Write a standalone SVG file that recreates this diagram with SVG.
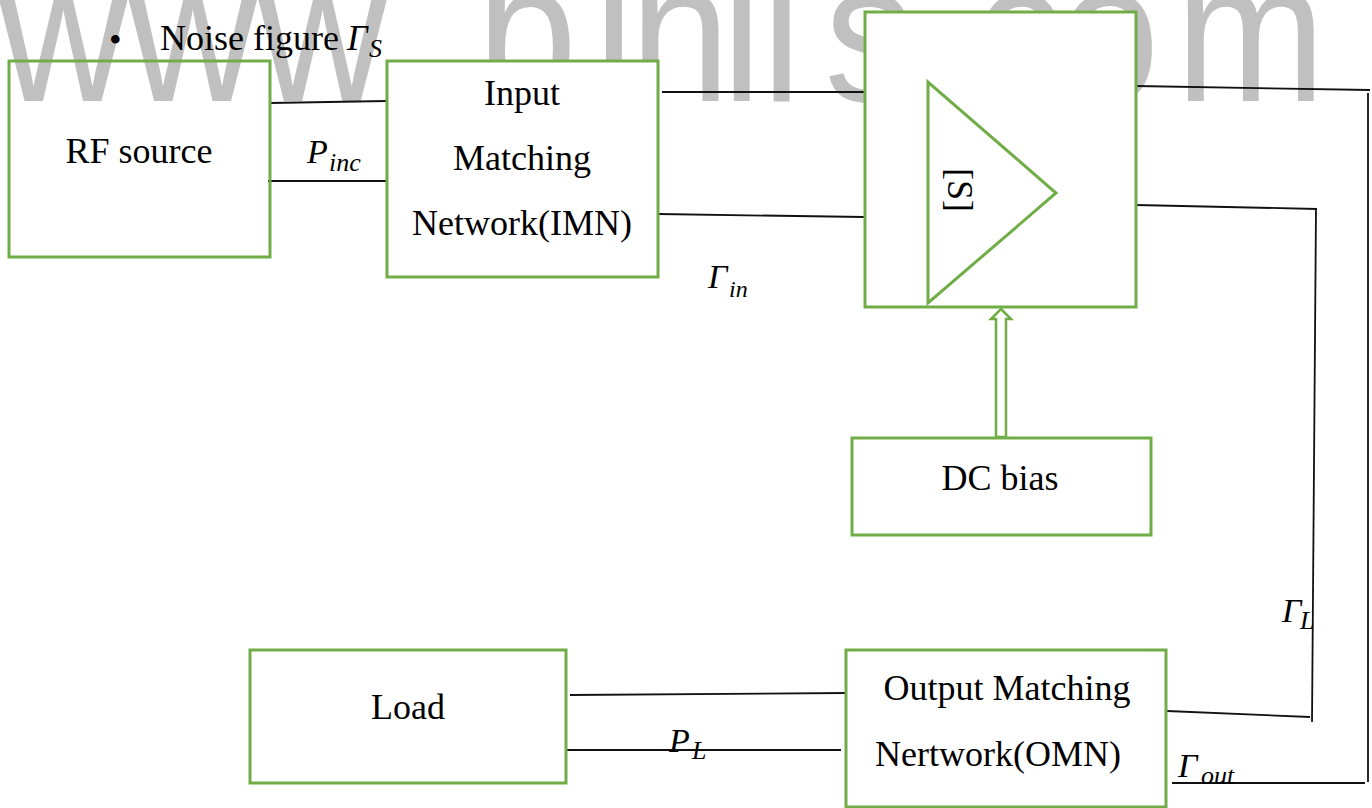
<svg xmlns="http://www.w3.org/2000/svg" width="1372" height="808" viewBox="0 0 1372 808">
<style>
.box{fill:#ffffff;stroke:#70ad47;stroke-width:3}
.open{fill:none;stroke:#70ad47;stroke-width:3}
.ln{stroke:#111111;stroke-width:1.8;fill:none}
.t{font-family:"Liberation Serif","Times New Roman",serif;font-size:36px;fill:#000}
.m{font-family:"Liberation Serif","Times New Roman",serif;font-style:italic;fill:#000}
.wm{font-family:"Liberation Sans",Arial,sans-serif;font-size:200px;fill:#c0c0c0}
</style>
<rect width="1372" height="808" fill="#ffffff"/>
<g id="watermark">
<text class="wm" transform="scale(0.9,1)" y="101" x="-2 142 286 436 530 660 700 802 846 916 1010 1082 1177 1306">www.binils.com</text>
</g>
<g id="heading">
<text class="t" x="109" y="52" font-size="64">•</text>
<text class="t" x="160" y="50" font-size="37">Noise figure</text>
<text class="m" x="347" y="50" font-size="36">Γ</text>
<text class="m" x="369" y="57" font-size="26">S</text>
</g>
<g id="connectors">
<line class="ln" x1="270" y1="103" x2="387" y2="101"/>
<line class="ln" x1="268" y1="181" x2="392" y2="181"/>
<line class="ln" x1="662" y1="92" x2="867" y2="92"/>
<line class="ln" x1="658" y1="214" x2="864" y2="217"/>
<line class="ln" x1="1136" y1="86" x2="1370" y2="90"/>
<line class="ln" x1="1368" y1="93" x2="1368" y2="782"/>
<line class="ln" x1="1172" y1="783" x2="1365" y2="783"/>
<line class="ln" x1="1136" y1="205" x2="1317" y2="209"/>
<line class="ln" x1="1316" y1="209" x2="1312" y2="722"/>
<line class="ln" x1="1167" y1="711" x2="1310" y2="717"/>
<line class="ln" x1="570" y1="695" x2="847" y2="693"/>
<line class="ln" x1="560" y1="750" x2="841" y2="750"/>
<path d="M1001,309 L1011,319 L1006,319 L1006,437 L996,437 L996,319 L991,319 Z" fill="#ffffff" stroke="#70ad47" stroke-width="2.5"/>
</g>
<g id="rf-source">
<rect class="open" x="9" y="61" width="261" height="196"/>
<text class="t" x="139" y="163" text-anchor="middle" font-size="37">RF source</text>
</g>
<g id="imn">
<rect class="box" x="387" y="61" width="271" height="216"/>
<text class="t" x="522" y="105" text-anchor="middle">Input</text>
<text class="t" x="522" y="170" text-anchor="middle">Matching</text>
<text class="t" x="522" y="235" text-anchor="middle">Network(IMN)</text>
</g>
<g id="p-inc">
<text class="m" x="307" y="163" font-size="34">P</text>
<text class="m" x="329" y="171" font-size="26">inc</text>
</g>
<g id="amplifier">
<rect class="box" x="865" y="12" width="271" height="295"/>
<polygon points="928,82 928,303 1056,193" fill="none" stroke="#70ad47" stroke-width="3"/>
<text class="t" transform="translate(957,190) rotate(90)" x="0" y="9" text-anchor="middle">[S]</text>
</g>
<g id="gamma-in">
<text class="m" x="708" y="288" font-size="34">Γ</text>
<text class="m" x="729" y="297" font-size="24">in</text>
</g>
<g id="dc-bias">
<rect class="box" x="852" y="438" width="299" height="97"/>
<text class="t" x="1000" y="490" text-anchor="middle">DC bias</text>
</g>
<g id="gamma-l">
<text class="m" x="1282" y="622" font-size="34">Γ</text>
<text class="m" x="1300" y="629" font-size="26">L</text>
</g>
<g id="load">
<rect class="box" x="250" y="650" width="316" height="133"/>
<text class="t" x="408" y="719" text-anchor="middle">Load</text>
</g>
<g id="p-l">
<text class="m" x="669" y="752" font-size="34">P</text>
<text class="m" x="692" y="759" font-size="26">L</text>
</g>
<g id="omn">
<rect class="box" x="846" y="650" width="320" height="157"/>
<text class="t" x="1007" y="700" text-anchor="middle">Output Matching</text>
<text class="t" x="998" y="766" text-anchor="middle">Nertwork(OMN)</text>
</g>
<g id="gamma-out">
<text class="m" x="1178" y="777" font-size="34">Γ</text>
<text class="m" x="1201" y="784" font-size="26">out</text>
</g>
</svg>
